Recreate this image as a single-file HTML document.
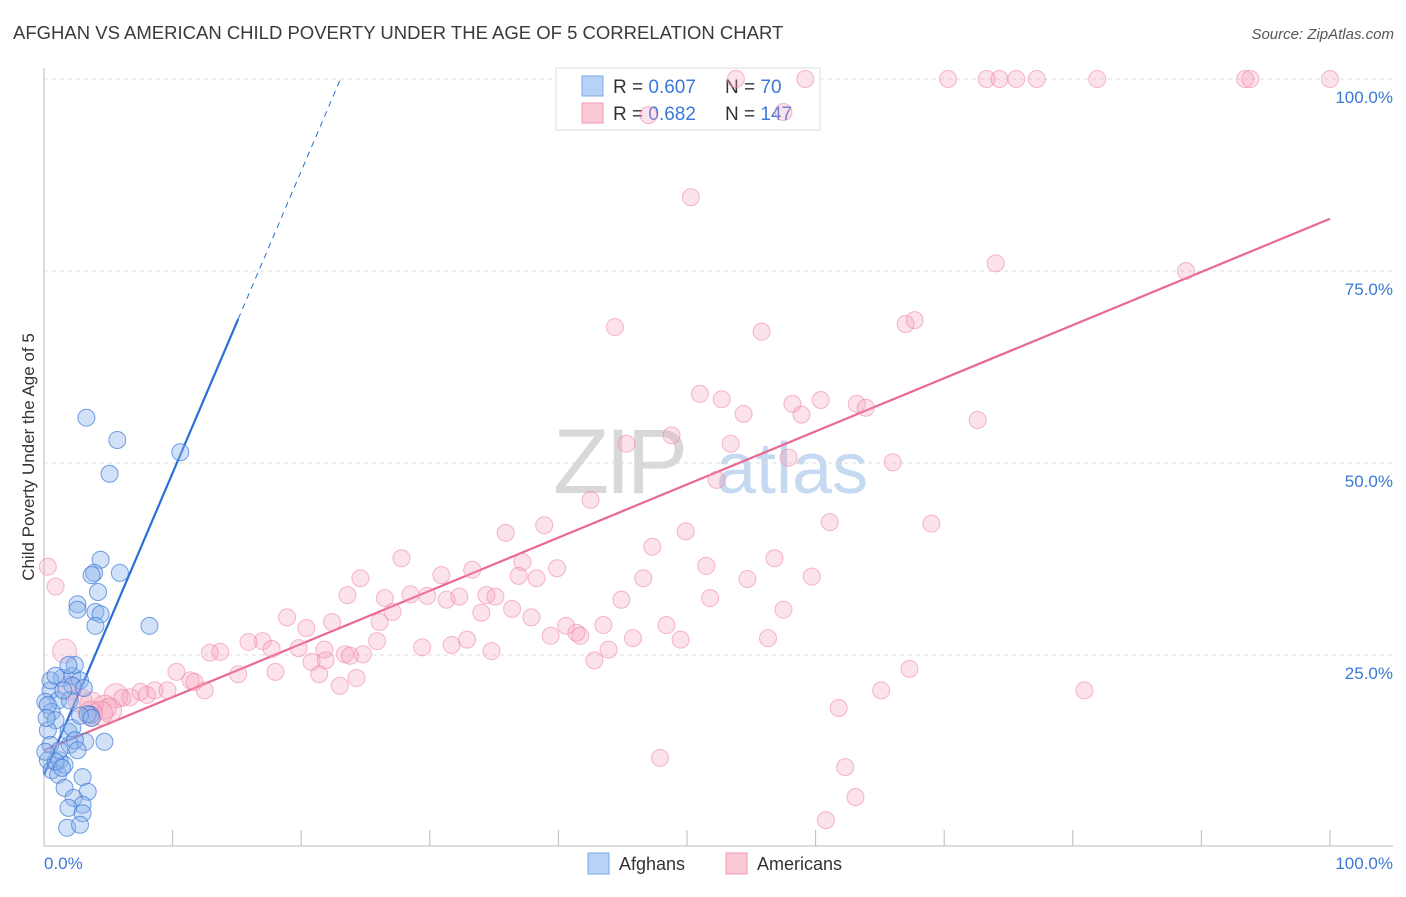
<!DOCTYPE html>
<html><head><meta charset="utf-8"><style>
body{margin:0;background:#fff;font-family:"Liberation Sans",sans-serif;}
svg text{font-family:"Liberation Sans",sans-serif;}
</style></head><body>
<svg id="chart" width="1406" height="892" xmlns="http://www.w3.org/2000/svg">
<text x="13" y="39" font-size="18.5" fill="#3a3a3a">AFGHAN VS AMERICAN CHILD POVERTY UNDER THE AGE OF 5 CORRELATION CHART</text>
<text x="1394" y="39" font-size="15" fill="#555" font-style="italic" text-anchor="end">Source: ZipAtlas.com</text>
<g>
<text x="553" y="493" font-size="92" fill="#d8d8d8" font-family="Liberation Serif" letter-spacing="-4">ZIP</text>
<text x="716" y="493" font-size="72" fill="#c5d9f0">atlas</text>
</g>
<g id="grid"></g>
<line x1="44" y1="68" x2="44" y2="846" stroke="#bbb"/>
<line x1="44" y1="846" x2="1393" y2="846" stroke="#bbb"/>
<text transform="translate(34,457) rotate(-90)" font-size="17" fill="#333" text-anchor="middle">Child Poverty Under the Age of 5</text>
<text x="44" y="869" font-size="17" fill="#3b78d8">0.0%</text>
<text x="1393" y="869" font-size="17" fill="#3b78d8" text-anchor="end">100.0%</text>
<g id="trends"></g>
<g>
<rect x="556" y="68" width="264" height="62" fill="#fff" stroke="#ddd"/>
<rect x="582" y="76" width="21" height="20" fill="#b7d2f5" stroke="#7aa8e6"/>
<rect x="582" y="103" width="21" height="20" fill="#fbc8d6" stroke="#ef9ab3"/>
<text x="613" y="93" font-size="19" fill="#333">R = <tspan fill="#3b78d8">0.607</tspan></text>
<text x="725" y="93" font-size="19" fill="#333">N =  <tspan fill="#3b78d8"> 70</tspan></text>
<text x="613" y="120" font-size="19" fill="#333">R = <tspan fill="#3b78d8"> 0.682</tspan></text>
<text x="725" y="120" font-size="19" fill="#333">N = <tspan fill="#3b78d8">147</tspan></text>
</g>
<g id="pts"></g>
<g>
<rect x="588" y="853" width="21" height="21" fill="#b7d2f5" stroke="#7aa8e6"/>
<text x="619" y="870" font-size="18" fill="#333">Afghans</text>
</g>
<g>
<rect x="726" y="853" width="21" height="21" fill="#fbc8d6" stroke="#ef9ab3"/>
<text x="757" y="870" font-size="18" fill="#333">Americans</text>
</g>
</svg>
<script>
const yTicks=[25,50,75,100];
const yTickLabels=["25.0%","50.0%","75.0%","100.0%"];
const xTicks=[10,20,30,40,50,60,70,80,90,100];
const blueX=[3.3,5.7,5.1,10.6,4.4,3.9,3.7,4.2,5.9,2.6,2.6,4.0,4.4,4.0,8.2,1.4,2.2,2.8,0.5,1.1,2.2,3.1,0.1,0.6,0.9,0.3,0.5,0.3,1.2,0.6,1.1,1.6,3.2,4.7,2.0,1.9,2.2,3.0,1.6,3.4,2.3,3.0,1.9,3.0,1.8,2.8,2.4,3.6,3.4,2.8,1.2,0.3,0.2,0.5,0.9,2.4,1.9,0.9,1.4,0.1,3.7,2.0,1.5,2.6];
const blueY=[55.9,53.0,48.6,51.4,37.4,35.7,35.4,33.2,35.7,31.6,30.9,30.6,30.3,28.8,28.8,22.0,22.3,21.7,20.4,19.1,21.0,20.7,18.9,17.6,16.5,15.2,13.3,11.3,11.3,10.0,9.4,10.7,13.7,13.7,13.3,15.0,15.5,9.1,7.7,7.2,6.4,5.5,5.1,4.4,2.5,2.9,13.9,17.2,17.3,17.1,12.6,18.5,16.8,21.7,22.3,23.7,23.7,11.1,10.3,12.4,16.8,19.1,20.4,12.6];
const pinkX=[53.8,70.3,73.3,74.3,75.6,77.2,81.9,93.4,93.8,100,59.2,57.5,47.0,50.3,74.0,88.8,44.4,55.8,67.0,67.7,51.0,52.7,54.4,58.2,60.4,58.9,63.2,63.9,72.6,45.3,48.8,53.4,57.9,66.0,52.3,42.5,35.9,38.9,49.9,61.1,69.0,47.3,27.8,37.2,51.5,56.8,24.6,30.9,33.3,36.9,38.3,39.9,46.6,54.7,59.7,23.6,26.5,28.5,29.8,31.3,32.3,34.4,35.1,36.4,37.9,27.1,44.9,51.8,57.5,18.9,20.4,22.4,26.1,34.0,17.0,15.9,13.7,12.9,17.7,19.8,21.8,23.4,25.9,29.4,31.7,32.9,34.8,39.4,40.6,41.4,41.7,43.5,43.9,42.8,45.8,48.4,49.5,56.3,21.9,23.8,24.8,15.1,18.0,20.8,21.4,23.0,24.3,67.3,80.9,65.1,61.8,10.3,11.4,11.7,12.5,8.6,9.6,7.5,8.0,6.7,5.6,6.1,3.7,4.7,5.1,2.8,2.0,1.6,0.3,0.9,47.9,62.3,63.1,60.8,4.4,3.6];
const pinkY=[100,100,100,100,100,100,100,100,100,100,100,95.7,95.3,84.6,76.0,75.0,67.7,67.1,68.1,68.6,59.0,58.3,56.4,57.7,58.2,56.3,57.7,57.2,55.6,52.5,53.6,52.5,50.7,50.1,47.8,45.2,40.9,41.9,41.1,42.3,42.1,39.1,37.6,37.1,36.6,37.6,35.0,35.4,36.1,35.3,35.0,36.3,35.0,34.9,35.2,32.8,32.4,32.9,32.7,32.2,32.6,32.8,32.6,31.0,29.9,30.6,32.2,32.4,30.9,29.9,28.5,29.3,29.3,30.5,26.8,26.7,25.4,25.3,25.8,25.9,25.7,25.1,26.8,26.0,26.3,27.0,25.5,27.5,28.8,27.9,27.5,28.9,25.7,24.3,27.2,28.9,27.0,27.2,24.3,24.9,25.1,22.5,22.8,24.1,22.5,21.0,22.0,23.2,20.4,20.4,18.1,22.8,21.7,21.5,20.4,20.4,20.4,20.2,19.8,19.5,19.7,19.4,18.6,18.2,17.8,19.1,20.7,25.5,36.5,33.9,11.6,10.4,6.5,3.5,17.4,17.4];
const blueTrend=[9.4,3.93,15.1];
const pinkTrend=[12.6,81.8];
const X=v=>44+v*12.86, Y=v=>847-v*7.68;
const NS="http://www.w3.org/2000/svg";
function mk(t,a,p){const e=document.createElementNS(NS,t);for(const k in a)e.setAttribute(k,a[k]);p.appendChild(e);return e;}
const grid=document.getElementById('grid');
yTicks.forEach((t,i)=>{
  const l=mk('line',{x1:44,x2:1393,y1:Y(t),y2:Y(t),stroke:'#ddd','stroke-dasharray':'4,4'},grid);
  
  
  const tx=mk('text',{x:1393,y:Y(t)+24,'font-size':17,fill:'#3b78d8','text-anchor':'end'},grid);
  tx.textContent=yTickLabels[i];
  
  
});
xTicks.forEach(t=>{
  const l=mk('line',{x1:X(t),x2:X(t),y1:830,y2:846,stroke:'#bbb'},grid);
  
  
});
const pts=document.getElementById('pts');
pinkX.forEach((x,i)=>{
  const c=mk('circle',{cx:X(x),cy:Y(pinkY[i]),r:(x<6&&pinkY[i]<26)?12:8.5,fill:'rgba(246,160,185,0.3)',stroke:'rgba(236,130,160,0.55)','stroke-width':1},pts);
  
  
});
blueX.forEach((x,i)=>{
  const c=mk('circle',{cx:X(x),cy:Y(blueY[i]),r:8.5,fill:'rgba(140,180,235,0.4)',stroke:'rgba(60,120,215,0.7)','stroke-width':1},pts);
  
  
});
const tr=document.getElementById('trends');
const b0=blueTrend[0],bs=blueTrend[1],be=blueTrend[2];
const bEnd=(100-b0)/bs;
const bl=mk('line',{x1:X(0),y1:Y(b0),x2:X(be),y2:Y(b0+bs*be),stroke:'#2a6fd6','stroke-width':2.2},tr);


const bd=mk('line',{x1:X(be),y1:Y(b0+bs*be),x2:X(bEnd),y2:Y(100),stroke:'#2a6fd6','stroke-width':1,'stroke-dasharray':'6,5'},tr);


const pl=mk('line',{x1:X(0),y1:Y(pinkTrend[0]),x2:X(100),y2:Y(pinkTrend[1]),stroke:'#e8688f','stroke-width':2.2},tr);


</script>
</body></html>
